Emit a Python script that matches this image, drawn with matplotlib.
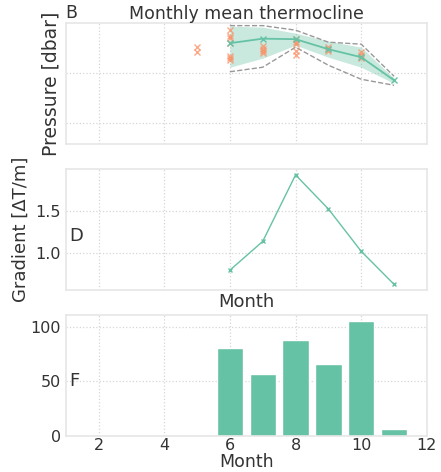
import numpy as np
import matplotlib
matplotlib.use("Agg")
import matplotlib.pyplot as plt

# monthly thermocline depth (dbar)
months = [6, 7, 8, 9, 10, 11]
depth_mean = [20, 15.5, 16, 26, 34, 57]
depth_lo = [3, 4, 10, 18, 24, 55]
depth_hi = [44, 35, 22, 34, 44, 60]
depth_min = [2.5, 2.5, 7, 19, 21, 53]
depth_max = [48.5, 44, 24, 42, 56, 62]

# single profiles
obs_month = [5, 5, 6, 6, 6, 6, 6, 6, 6, 7, 7, 7, 7, 8, 8, 8, 8, 8, 9, 9, 9, 10, 10, 10]
obs_depth = [24, 29, 7, 13, 15, 20, 33, 35, 37, 23, 26, 28, 30, 16, 19, 21, 28, 32, 24, 26, 28, 29, 32, 35]

# thermocline gradient
grad = [0.797, 1.137, 1.922, 1.52, 1.02, 0.63]

# number of profiles per month
counts = [81, 57, 88, 66, 106, 6]

green = "#66c2a5"
orange = "#fc8d62"
txt = "#333333"

matplotlib.rcParams.update({
    "font.size": 11.5,
    "axes.edgecolor": "#e6e6e6",
    "axes.linewidth": 1.2,
    "axes.labelcolor": txt,
    "xtick.color": txt,
    "ytick.color": txt,
    "xtick.major.size": 0,
    "ytick.major.size": 0,
    "grid.color": "#d6d6d6",
    "grid.linestyle": ":",
    "grid.linewidth": 0.9,
})

fig = plt.figure(figsize=(4.41, 4.72), dpi=100)
left, width = 0.149, 0.819
ax1 = fig.add_axes([left, 0.694, width, 0.257])
ax2 = fig.add_axes([left, 0.386, width, 0.255])
ax3 = fig.add_axes([left, 0.077, width, 0.256])

for ax in (ax1, ax2, ax3):
    ax.set_xlim(1, 12)
    ax.set_xticks([2, 4, 6, 8, 10, 12])
    ax.grid(True)
    ax.set_axisbelow(True)

# panel B
ax1.fill_between(months, depth_lo, depth_hi, color=green, alpha=0.35, lw=0)
ax1.plot(months, depth_min, color="#999999", ls="--", lw=1)
ax1.plot(months, depth_max, color="#999999", ls="--", lw=1)
ax1.plot(obs_month, obs_depth, "x", color=orange, ms=4, alpha=0.75, mew=1)
ax1.plot(months, depth_mean, "-x", color=green, lw=1.3, ms=4)
ax1.set_ylim(121, 0)
ax1.set_yticks([50, 100])
ax1.tick_params(labelleft=False, labelbottom=False)
ax1.set_ylabel("Pressure [dbar]", fontsize=13.5, labelpad=4)
ax1.set_title("Monthly mean thermocline", fontsize=12.5, color=txt, pad=3)
ax1.text(0.0, 1.01, "B", transform=ax1.transAxes, fontsize=12.5, color=txt,
         ha="left", va="bottom")

# panel D
ax2.plot(months, grad, "-x", color=green, lw=1, ms=3.5)
ax2.set_yticks([1.0, 1.5])
ax2.tick_params(labelbottom=False)
ax2.set_ylabel("Gradient [\u0394T/m]", fontsize=13)
ax2.set_xlabel("Month", fontsize=13, labelpad=2)
ax2.text(0.01, 0.45, "D", transform=ax2.transAxes, fontsize=13, color=txt,
         ha="left", va="center")

# panel F
ax3.bar(months, counts, width=0.8, color=green, edgecolor="white", lw=1)
ax3.set_yticks([0, 50, 100])
ax3.tick_params(axis="x", pad=2)
ax3.set_xlabel("Month", fontsize=12.5, labelpad=0)
ax3.text(0.01, 0.45, "F", transform=ax3.transAxes, fontsize=13, color=txt,
         ha="left", va="center")

fig.savefig("out.png", dpi=100)
